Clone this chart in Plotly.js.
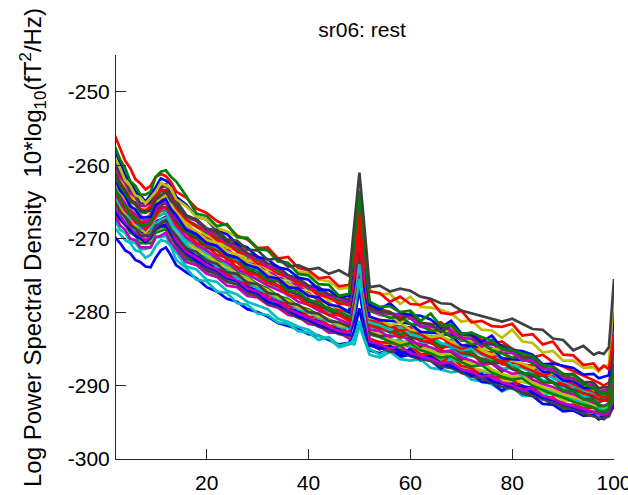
<!DOCTYPE html>
<html>
<head>
<meta charset="utf-8">
<script src="https://cdn.plot.ly/plotly-3.0.1.min.js"></script>
<style>html,body{margin:0;padding:0;background:#fff;}#chart{width:628px;height:495px;}</style>
</head>
<body>
<div id="chart"></div>
<script>
// Frequency grid (Hz)
const freqs = [2,3,4,5,6,7,8,9,10,11,12,13,14,
  16,18,20,22,24,26,28,30,32,34,36,38,40,42,44,46,48,
  49,50,51,52,
  54,56,58,60,62,64,66,68,70,72,74,76,78,80,82,84,86,88,90,92,94,96,
  97,98,99,100];

// Channel spectra, 10*log10(fT^2/Hz)
const chA = [-256.0,-257.6,-259.4,-260.4,-261.9,-262.5,-263.3,-262.8,-261.6,-261.2,-261.5,-262.3,-263.6,
 -264.4,-265.9,-266.5,-267.6,-268.2,-269.6,-270.1,-271.3,-271.2,-272.7,-272.5,-274.0,-274.3,-275.4,-275.2,-276.5,-276.3,
 -272.6,-266.5,-273.0,-277.2,
 -277.4,-278.6,-277.9,-278.9,-279.0,-278.4,-280.1,-280.3,-279.8,-281.4,-281.2,-281.9,-282.0,-281.6,-283.2,-283.0,-284.4,-284.0,-285.8,-285.9,-287.2,-287.0,
 -287.9,-287.3,-287.8,-283.0];
const chB = [-257.5,-259.2,-260.4,-262.2,-262.8,-264.0,-264.0,-263.6,-261.6,-260.9,-260.7,-261.6,-262.2,
 -264.2,-266.6,-266.9,-268.3,-268.0,-269.8,-269.9,-271.4,-271.6,-273.1,-273.3,-274.8,-275.0,-276.2,-276.3,-277.8,-277.5,
 -270.5,-263.5,-271.0,-278.6,
 -279.3,-279.2,-280.0,-279.8,-281.2,-280.2,-281.9,-281.7,-283.0,-282.8,-283.4,-283.9,-285.0,-285.2,-285.6,-286.0,-287.2,-287.4,-288.6,-288.5,-289.9,-290.2,
 -291.0,-291.2,-291.1,-288.0];
const chC = [-261.0,-262.6,-263.4,-264.8,-265.1,-266.2,-266.3,-266.2,-264.7,-264.2,-263.6,-264.9,-265.5,
 -267.0,-267.4,-268.7,-268.8,-270.1,-270.3,-271.5,-271.6,-272.9,-272.7,-273.8,-273.6,-274.2,-274.0,-274.8,-274.3,-275.1,
 -268.0,-261.0,-268.5,-276.6,
 -276.4,-277.2,-276.8,-277.1,-277.9,-278.2,-278.8,-278.9,-279.8,-280.2,-280.5,-281.0,-281.3,-280.9,-281.6,-282.3,-282.4,-283.6,-283.8,-285.2,-284.6,-285.8,
 -285.5,-285.7,-284.8,-275.5];
const chD = [-259.0,-260.4,-262.1,-262.8,-264.1,-264.4,-265.2,-264.4,-263.6,-262.4,-262.7,-263.1,-264.6,
 -265.6,-267.0,-267.4,-268.6,-269.0,-269.8,-270.0,-271.2,-271.6,-272.8,-273.4,-274.5,-274.7,-275.6,-275.8,-276.8,-276.7,
 -271.0,-262.5,-271.5,-277.0,
 -277.6,-277.5,-278.9,-277.9,-279.3,-279.4,-279.7,-280.2,-281.3,-281.1,-282.4,-282.5,-283.5,-282.4,-284.0,-284.2,-285.5,-285.3,-286.6,-286.6,-287.6,-287.5,
 -288.1,-287.4,-287.2,-277.0];
const chE = [-269.8,-270.6,-271.6,-272.0,-272.9,-273.2,-273.8,-273.9,-272.6,-271.6,-271.2,-272.3,-273.6,
 -274.6,-275.4,-276.6,-277.2,-278.2,-278.6,-279.6,-280.0,-280.6,-281.5,-281.9,-282.3,-283.0,-283.2,-283.8,-284.4,-284.2,
 -282.5,-279.5,-283.0,-285.2,
 -285.6,-285.0,-286.1,-285.8,-286.6,-285.9,-286.8,-286.9,-287.6,-288.0,-288.9,-288.2,-289.3,-289.2,-290.1,-290.3,-290.9,-290.8,-291.9,-292.1,-292.8,-292.9,
 -293.4,-293.2,-293.1,-292.0];
const chF = [-267.5,-268.8,-269.2,-270.4,-270.6,-271.5,-271.4,-271.2,-269.8,-269.8,-269.6,-271.0,-271.8,
 -273.8,-274.2,-275.6,-275.9,-277.1,-277.6,-278.6,-279.1,-279.6,-280.9,-281.3,-282.0,-282.4,-283.3,-283.6,-284.8,-284.4,
 -283.6,-281.2,-283.8,-285.0,
 -285.8,-284.9,-285.6,-285.0,-286.1,-286.2,-286.5,-286.8,-287.9,-287.7,-288.1,-288.4,-289.5,-289.4,-290.6,-290.5,-291.4,-290.8,-291.9,-292.0,-292.7,-292.6,
 -293.2,-293.0,-292.8,-290.5];
const chG = [-262.5,-263.6,-265.1,-265.6,-266.8,-267.0,-267.7,-266.8,-266.0,-264.9,-265.2,-265.6,-267.3,
 -268.2,-269.5,-269.8,-271.1,-271.4,-272.5,-272.8,-273.9,-274.2,-275.3,-275.4,-276.6,-276.8,-277.7,-277.8,-278.9,-278.8,
 -275.0,-266.5,-275.5,-279.8,
 -280.4,-280.6,-281.4,-280.8,-282.0,-282.2,-282.5,-282.8,-283.9,-283.8,-284.8,-284.2,-285.5,-285.6,-286.6,-286.0,-287.3,-287.4,-288.4,-288.6,-289.6,-289.8,
 -290.8,-290.8,-291.0,-289.0];
const chH = [-258.0,-259.6,-261.4,-262.2,-263.6,-264.1,-265.0,-264.0,-263.0,-261.8,-262.1,-262.6,-264.3,
 -265.4,-267.0,-267.4,-268.9,-269.4,-270.7,-271.2,-272.5,-272.8,-273.9,-274.2,-275.3,-275.6,-276.9,-277.0,-277.9,-277.8,
 -271.5,-262.8,-272.0,-279.0,
 -279.6,-278.8,-280.1,-280.4,-280.5,-281.0,-282.1,-281.2,-282.9,-283.0,-284.1,-283.2,-284.9,-285.2,-285.3,-285.8,-287.1,-287.0,-287.3,-287.6,-288.5,-288.4,
 -289.0,-288.8,-288.6,-280.0];
const chI = [-266.0,-267.4,-268.0,-269.2,-269.6,-270.6,-270.6,-270.6,-269.2,-269.0,-268.7,-270.0,-270.8,
 -272.8,-273.2,-274.4,-274.8,-275.9,-276.2,-277.5,-277.6,-278.7,-278.8,-280.1,-280.2,-281.3,-281.6,-282.5,-282.6,-283.4,
 -279.0,-272.0,-279.5,-284.2,
 -284.9,-285.0,-285.1,-285.4,-286.5,-285.8,-287.1,-287.2,-287.5,-287.8,-289.1,-289.2,-289.5,-289.8,-290.9,-291.0,-291.9,-292.0,-293.1,-293.2,-294.1,-294.0,
 -294.6,-294.4,-294.2,-292.5];
const chJ = [-263.5,-264.6,-266.0,-266.4,-267.6,-267.8,-268.6,-267.8,-267.0,-265.6,-265.8,-266.4,-268.1,
 -269.2,-270.6,-271.0,-272.2,-272.6,-274.0,-274.0,-275.0,-275.4,-276.4,-276.8,-277.8,-278.2,-279.4,-279.4,-280.2,-280.2,
 -277.0,-269.5,-277.5,-281.2,
 -281.6,-281.8,-281.9,-282.1,-283.5,-283.3,-283.5,-283.9,-285.1,-285.1,-285.3,-285.5,-286.9,-286.9,-287.1,-287.3,-288.7,-288.7,-289.9,-288.9,-290.5,-290.5,
 -291.3,-291.2,-291.5,-290.0];
const chK = [-260.5,-262.1,-262.8,-264.2,-264.6,-265.8,-265.8,-265.8,-264.4,-264.2,-263.9,-265.2,-266.0,
 -267.8,-268.4,-269.6,-270.2,-271.2,-271.6,-273.0,-273.2,-274.2,-274.6,-275.6,-276.0,-277.0,-277.4,-278.4,-278.4,-279.2,
 -274.5,-265.0,-275.0,-279.6,
 -280.3,-280.4,-281.5,-280.6,-281.9,-282.0,-283.1,-282.2,-283.7,-283.8,-284.9,-285.0,-285.1,-285.4,-286.5,-286.6,-287.7,-287.6,-288.7,-288.8,-289.7,-289.6,
 -290.3,-290.2,-290.3,-286.5];
const chL = [-265.0,-266.4,-267.0,-268.2,-268.6,-269.6,-269.6,-269.6,-268.2,-268.0,-267.5,-268.8,-269.6,
 -271.4,-271.8,-273.0,-273.4,-274.6,-274.8,-276.0,-276.2,-277.4,-277.6,-278.8,-279.0,-280.0,-280.2,-281.2,-281.4,-282.0,
 -278.0,-270.0,-278.5,-282.8,
 -283.3,-283.2,-283.3,-283.6,-284.7,-284.0,-285.3,-285.4,-286.5,-285.6,-286.9,-287.0,-288.1,-287.2,-288.5,-288.6,-289.5,-289.6,-290.5,-290.6,-291.7,-291.6,
 -292.3,-292.0,-292.1,-290.0];
const chM = [-264.0,-265.4,-266.0,-267.2,-267.6,-268.6,-268.6,-268.4,-267.0,-266.8,-266.4,-267.8,-268.6,
 -270.4,-270.8,-272.0,-272.4,-273.6,-273.8,-275.0,-275.4,-276.4,-276.6,-277.8,-278.0,-279.0,-279.2,-280.2,-280.4,-281.2,
 -277.5,-272.5,-278.0,-282.0,
 -282.5,-282.6,-283.7,-282.8,-284.1,-284.2,-284.5,-284.8,-285.9,-286.0,-286.3,-286.6,-287.7,-287.6,-288.7,-288.0,-289.3,-289.4,-290.5,-290.4,-291.5,-291.4,
 -292.1,-291.8,-291.7,-286.0];
const chN = [-266.8,-268.2,-268.8,-270.0,-270.2,-271.2,-271.2,-271.2,-269.8,-269.6,-269.2,-270.6,-271.4,
 -273.2,-273.6,-274.8,-275.2,-276.4,-276.6,-277.8,-278.0,-279.0,-279.4,-280.4,-280.6,-281.6,-281.8,-282.8,-282.8,-283.6,
 -280.0,-274.0,-280.5,-284.4,
 -285.1,-284.2,-285.5,-285.6,-285.9,-286.2,-287.3,-287.4,-287.7,-288.0,-289.1,-289.2,-289.3,-289.6,-290.7,-290.8,-291.9,-291.8,-292.9,-292.8,-293.7,-293.6,
 -294.3,-294.0,-294.1,-292.6];
const chO = [-261.8,-263.4,-264.2,-265.6,-266.0,-267.1,-267.1,-267.0,-265.4,-265.0,-264.6,-266.0,-266.8,
 -268.8,-269.4,-270.6,-271.0,-272.2,-272.6,-273.6,-274.0,-275.2,-275.4,-276.6,-276.8,-277.8,-278.0,-279.0,-279.2,-280.0,
 -276.0,-264.0,-276.5,-280.6,
 -281.1,-281.2,-281.3,-281.6,-282.7,-282.8,-282.9,-283.2,-284.5,-284.6,-284.7,-284.9,-286.3,-286.4,-286.5,-286.8,-288.1,-288.2,-289.3,-289.4,-290.3,-290.4,
 -291.0,-290.8,-290.9,-287.5];
const chP = [-262.8,-264.2,-265.0,-266.4,-266.8,-267.8,-267.8,-267.4,-265.6,-264.8,-264.3,-265.8,-266.8,
 -269.0,-269.6,-271.0,-271.4,-272.8,-273.2,-274.6,-275.0,-276.0,-276.4,-277.6,-278.0,-279.0,-279.4,-280.4,-280.4,-281.2,
 -277.5,-268.0,-278.0,-281.8,
 -282.3,-282.4,-283.5,-282.6,-283.9,-284.0,-285.1,-284.2,-285.5,-285.6,-286.7,-285.8,-287.1,-287.2,-288.3,-288.4,-288.5,-288.8,-289.9,-290.0,-291.1,-291.2,
 -292.0,-292.0,-291.9,-289.0];
const chQ = [-263.0,-264.6,-265.4,-266.8,-267.2,-268.2,-268.2,-267.8,-265.8,-265.2,-264.7,-266.1,-267.0,
 -269.0,-269.6,-270.8,-271.2,-272.4,-272.8,-274.0,-274.4,-275.6,-275.8,-277.0,-277.2,-278.4,-278.6,-279.6,-279.8,-280.6,
 -274.0,-263.8,-274.5,-281.4,
 -281.9,-282.0,-283.1,-282.2,-283.5,-283.6,-284.7,-283.8,-285.3,-285.4,-286.5,-286.6,-286.7,-287.2,-288.3,-288.4,-289.5,-289.6,-290.7,-290.8,-291.9,-292.0,
 -292.8,-292.8,-292.6,-290.0];
const chR = [-265.5,-267.0,-267.6,-268.8,-269.2,-270.2,-270.2,-270.2,-268.8,-268.6,-268.3,-269.7,-270.6,
 -272.4,-272.8,-274.0,-274.6,-275.6,-276.0,-277.2,-277.4,-278.6,-278.8,-280.0,-280.2,-281.2,-281.4,-282.4,-282.4,-283.2,
 -279.5,-272.0,-280.0,-283.8,
 -284.3,-284.4,-284.5,-284.8,-285.9,-286.0,-286.1,-286.4,-287.5,-287.6,-287.9,-288.2,-289.3,-289.4,-289.5,-289.8,-290.9,-291.0,-292.1,-292.0,-293.1,-293.0,
 -293.6,-293.4,-293.2,-291.0];
const chS = [-268.6,-269.4,-270.2,-270.6,-271.6,-271.8,-272.6,-272.2,-271.0,-270.2,-270.4,-271.0,-272.9,
 -274.0,-275.6,-275.8,-277.2,-277.4,-278.8,-279.0,-280.2,-280.4,-281.4,-281.6,-282.6,-282.8,-283.8,-283.4,-284.6,-284.2,
 -284.4,-281.8,-283.8,-285.8,
 -286.2,-285.4,-286.4,-286.6,-286.4,-287.6,-287.8,-288.2,-288.0,-289.2,-289.4,-289.8,-290.8,-290.2,-291.4,-291.4,-291.8,-292.6,-292.6,-293.4,-293.4,-293.6,
 -294.2,-293.8,-293.8,-291.5];
const chT = [-259.6,-261.2,-262.0,-263.4,-264.0,-265.2,-265.2,-265.0,-263.4,-263.0,-262.6,-264.0,-264.8,
 -266.8,-267.4,-268.6,-269.2,-270.4,-270.8,-272.0,-272.4,-273.4,-273.8,-275.0,-275.4,-276.4,-276.6,-277.6,-277.8,-278.4,
 -272.0,-263.0,-272.5,-279.4,
 -279.9,-280.0,-281.1,-280.2,-281.5,-281.6,-282.7,-281.8,-283.1,-283.2,-284.3,-284.4,-284.5,-285.0,-286.1,-286.2,-287.3,-287.4,-288.5,-288.4,-289.5,-289.6,
 -290.4,-290.2,-290.2,-285.0];
const chU = [-260.0,-261.6,-262.4,-263.8,-264.3,-265.5,-265.5,-265.2,-263.6,-263.2,-262.7,-264.1,-265.0,
 -267.0,-267.6,-269.0,-269.4,-270.6,-271.0,-272.2,-272.6,-273.8,-274.0,-275.2,-275.6,-276.6,-276.8,-277.8,-278.0,-278.8,
 -273.5,-264.5,-274.0,-279.6,
 -280.1,-280.2,-280.3,-280.8,-281.9,-282.0,-282.1,-282.4,-283.5,-283.6,-284.7,-283.8,-285.1,-285.4,-286.5,-286.6,-287.7,-287.8,-288.9,-289.0,-289.9,-290.0,
 -290.8,-290.6,-290.4,-284.0];
const chV = [-264.5,-266.0,-266.6,-267.8,-268.2,-269.2,-269.2,-269.0,-267.6,-267.4,-267.0,-268.6,-269.6,
 -271.6,-272.2,-273.4,-273.8,-275.0,-275.4,-276.6,-277.0,-278.2,-278.4,-279.6,-279.8,-281.0,-281.2,-282.2,-282.2,-283.0,
 -279.0,-270.5,-279.5,-284.0,
 -284.7,-284.8,-285.9,-285.0,-286.3,-286.6,-287.7,-286.8,-288.3,-288.4,-289.5,-289.6,-290.7,-289.8,-291.1,-291.4,-292.5,-292.6,-293.5,-293.4,-294.1,-294.0,
 -294.6,-294.0,-293.8,-292.0];
const chW = [-264.8,-266.2,-266.8,-268.0,-268.4,-269.4,-269.4,-269.2,-267.8,-267.6,-267.1,-268.6,-269.4,
 -271.2,-271.8,-273.0,-273.6,-274.8,-275.2,-276.2,-276.6,-277.8,-278.0,-279.2,-279.4,-280.6,-280.8,-281.8,-282.0,-282.8,
 -279.0,-271.0,-279.5,-283.6,
 -284.1,-284.2,-284.3,-284.6,-285.7,-285.8,-286.9,-286.0,-287.3,-287.6,-288.7,-288.8,-288.9,-289.2,-290.3,-290.4,-291.5,-291.6,-292.7,-292.6,-293.1,-293.0,
 -293.6,-293.4,-293.4,-293.0];
const chX = [-261.5,-262.8,-263.8,-264.9,-265.4,-266.4,-266.5,-266.0,-264.4,-263.6,-263.4,-264.6,-265.6,
 -267.4,-268.2,-269.2,-269.8,-270.8,-271.4,-272.4,-272.9,-273.9,-274.3,-275.4,-275.8,-276.8,-277.2,-278.0,-278.4,-279.0,
 -272.8,-262.2,-273.4,-279.8,
 -280.2,-280.8,-280.6,-281.6,-281.8,-282.6,-282.4,-283.4,-283.6,-284.4,-284.2,-285.2,-285.6,-286.2,-286.0,-287.0,-287.4,-288.2,-288.4,-289.2,-289.6,-290.4,
 -290.8,-291.0,-290.6,-287.0];
const chY = [-262.0,-263.4,-264.6,-265.4,-266.4,-266.8,-267.4,-266.6,-265.2,-264.2,-264.0,-265.2,-266.4,
 -268.0,-269.2,-269.8,-270.8,-271.6,-272.6,-273.4,-273.8,-275.0,-275.6,-276.2,-277.0,-277.4,-278.4,-278.8,-279.6,-280.0,
 -276.5,-268.8,-277.0,-281.0,
 -281.2,-281.8,-282.6,-282.2,-283.0,-283.8,-283.4,-284.4,-285.0,-284.6,-285.6,-286.2,-286.8,-286.4,-287.4,-288.0,-288.6,-288.2,-289.2,-289.8,-290.4,-290.8,
 -291.4,-291.6,-291.2,-289.5];
const chZ = [-265.2,-266.4,-267.2,-268.2,-268.8,-269.4,-269.8,-269.2,-268.0,-267.4,-267.2,-268.2,-269.4,
 -270.8,-272.0,-272.6,-273.8,-274.2,-275.4,-275.8,-276.8,-277.4,-278.2,-278.6,-279.6,-280.0,-280.8,-281.2,-282.0,-282.2,
 -279.8,-275.5,-280.2,-283.0,
 -283.4,-284.0,-283.8,-284.6,-285.0,-285.6,-285.4,-286.4,-286.8,-287.4,-287.2,-288.2,-288.6,-289.0,-288.8,-289.8,-290.4,-290.8,-291.4,-291.8,-292.2,-292.8,
 -293.0,-293.2,-292.8,-291.0];
const chAA = [-263.8,-265.0,-266.2,-266.8,-267.8,-268.2,-268.8,-268.0,-266.8,-266.0,-265.8,-267.0,-268.2,
 -269.8,-270.8,-271.6,-272.6,-273.2,-274.2,-274.8,-275.6,-276.4,-277.0,-277.6,-278.6,-279.0,-279.8,-280.4,-281.0,-281.6,
 -278.0,-270.8,-278.4,-282.4,
 -282.6,-283.4,-283.0,-284.0,-284.4,-284.8,-285.4,-285.2,-286.2,-286.6,-287.2,-287.0,-287.8,-288.4,-288.2,-289.2,-289.8,-290.2,-290.8,-291.2,-291.8,-292.4,
 -292.6,-292.8,-292.4,-290.5];
const chAB = [-262.2,-263.6,-264.6,-265.6,-266.2,-267.0,-267.2,-266.8,-265.2,-264.4,-264.3,-265.4,-266.6,
 -268.2,-269.0,-270.2,-270.6,-271.8,-272.2,-273.4,-273.8,-274.8,-275.4,-276.2,-276.8,-277.6,-278.0,-279.0,-279.4,-279.8,
 -275.0,-264.2,-275.6,-280.8,
 -281.0,-281.8,-281.4,-282.4,-282.6,-283.4,-283.2,-284.0,-284.6,-284.2,-285.2,-285.8,-285.6,-286.6,-287.0,-287.6,-287.4,-288.4,-288.8,-289.4,-289.8,-290.6,
 -290.8,-291.2,-290.8,-288.0];
const chAC = [-263.2,-264.4,-265.6,-266.2,-267.2,-267.6,-268.2,-267.4,-266.2,-265.4,-265.2,-266.4,-267.6,
 -269.2,-270.0,-271.2,-271.6,-272.8,-273.2,-274.4,-274.8,-275.8,-276.4,-277.2,-277.6,-278.6,-279.0,-279.8,-280.4,-280.8,
 -277.8,-271.8,-278.2,-281.8,
 -282.0,-282.8,-282.4,-283.4,-283.8,-284.2,-284.8,-284.6,-285.6,-285.8,-286.4,-287.0,-286.8,-287.8,-288.2,-288.8,-288.6,-289.6,-290.0,-290.6,-291.0,-291.6,
 -291.8,-292.0,-291.6,-289.5];
const chAD = [-266.2,-267.2,-268.0,-268.8,-269.6,-270.0,-270.4,-269.8,-268.6,-268.2,-268.2,-269.2,-270.4,
 -272.0,-273.0,-273.8,-274.4,-275.4,-275.8,-277.0,-277.4,-278.6,-279.0,-279.6,-280.6,-281.0,-281.8,-282.2,-282.8,-283.0,
 -281.0,-276.8,-281.4,-284.4,
 -285.0,-284.6,-285.4,-285.8,-286.2,-286.0,-287.0,-287.4,-287.8,-288.6,-288.4,-289.4,-289.8,-290.2,-290.0,-291.0,-291.6,-292.0,-292.4,-293.0,-293.4,-293.6,
 -293.8,-294.0,-293.6,-292.6];
const chAE = [-264.2,-265.6,-266.4,-267.4,-268.0,-268.8,-269.0,-268.4,-267.0,-266.4,-266.2,-267.4,-268.6,
 -270.2,-271.2,-272.0,-273.0,-273.6,-274.6,-275.2,-276.2,-276.8,-277.8,-278.2,-279.2,-279.6,-280.4,-281.0,-281.6,-281.8,
 -277.5,-266.8,-278.0,-283.0,
 -283.4,-284.0,-284.6,-284.2,-285.2,-285.6,-286.2,-286.0,-286.8,-287.4,-287.2,-288.2,-288.8,-289.2,-289.0,-290.0,-290.6,-291.2,-291.6,-292.2,-292.6,-293.0,
 -293.4,-293.6,-293.2,-291.0];
const chAF = [-261.0,-262.4,-263.4,-264.6,-265.2,-266.0,-266.2,-265.6,-264.2,-263.4,-263.4,-264.4,-265.8,
 -267.4,-268.4,-269.0,-270.2,-270.6,-271.8,-272.2,-273.4,-273.8,-274.8,-275.2,-276.2,-276.6,-277.6,-278.0,-278.8,-279.0,
 -275.0,-267.0,-275.5,-279.6,
 -279.6,-280.0,-280.8,-280.4,-281.4,-281.8,-281.4,-282.6,-283.2,-282.8,-283.8,-284.4,-284.0,-285.0,-285.6,-286.2,-285.8,-286.8,-287.4,-288.0,-288.6,-289.2,
 -289.6,-290.0,-289.6,-288.5];
const chAG = [-262.6,-263.8,-264.8,-265.8,-266.4,-267.2,-267.4,-266.8,-265.6,-265.0,-264.8,-265.8,-267.0,
 -268.6,-269.4,-270.4,-271.2,-271.8,-272.8,-273.2,-274.2,-274.8,-275.6,-276.0,-277.0,-277.6,-278.2,-278.8,-279.6,-280.2,
 -277.2,-273.5,-277.8,-281.4,
 -281.8,-282.4,-282.0,-283.0,-283.4,-283.2,-284.2,-284.6,-285.2,-285.0,-285.8,-286.4,-286.2,-287.2,-287.6,-288.2,-288.0,-289.0,-289.4,-290.0,-290.6,-291.0,
 -291.4,-291.6,-291.2,-285.5];
const chAH = [-265.8,-266.8,-267.8,-268.4,-269.2,-269.6,-270.2,-269.6,-268.4,-267.8,-267.8,-268.8,-270.2,
 -271.8,-272.6,-273.6,-274.2,-275.2,-275.6,-276.8,-277.2,-278.2,-278.6,-279.6,-280.2,-280.8,-281.4,-282.0,-282.6,-282.8,
 -280.0,-273.2,-280.4,-284.0,
 -284.4,-285.0,-284.6,-285.6,-286.0,-286.4,-287.0,-286.8,-287.8,-288.2,-288.8,-288.6,-289.6,-290.0,-290.6,-290.4,-291.4,-291.8,-292.4,-292.8,-293.2,-293.6,
 -293.8,-294.0,-293.6,-291.8];
const chAI = [-264.4,-265.6,-266.6,-267.2,-268.2,-268.6,-269.2,-268.4,-267.2,-266.6,-266.4,-267.6,-268.8,
 -270.4,-271.4,-272.2,-273.2,-273.8,-274.8,-275.4,-276.4,-277.0,-278.0,-278.4,-279.4,-279.8,-280.6,-281.0,-281.8,-282.0,
 -278.6,-270.2,-279.0,-282.8,
 -283.0,-283.6,-284.2,-283.8,-284.8,-285.2,-285.8,-285.6,-286.4,-287.0,-286.8,-287.8,-288.4,-288.8,-288.6,-289.6,-290.2,-290.6,-291.2,-291.6,-292.0,-292.6,
 -292.8,-293.0,-292.6,-290.0];
const chAJ = [-266.4,-267.4,-268.2,-268.8,-269.6,-270.0,-270.6,-270.0,-268.8,-268.4,-268.4,-269.6,-270.8,
 -272.4,-273.2,-274.2,-274.8,-275.8,-276.2,-277.2,-277.8,-278.8,-279.2,-280.0,-280.8,-281.2,-282.0,-282.4,-283.0,-283.2,
 -281.2,-276.5,-281.6,-284.6,
 -284.8,-285.4,-285.2,-286.0,-286.4,-286.6,-287.4,-287.6,-288.2,-288.8,-289.0,-289.6,-290.2,-290.4,-291.0,-291.4,-291.8,-292.4,-292.8,-293.2,-293.8,-294.2,
 -294.4,-294.6,-294.0,-292.5];

// Drawing order and MATLAB-style colour order
const BLUE='#0000FF', GREEN='#008000', RED='#FF0000', CYAN='#00BFBF', MAGENTA='#BF00BF', OLIVE='#BFBF00', GRAY='#404040';
const channels = [chE, chI, chF, chN, chS, chR, chV, chW, chAJ, chAD, chAH, chZ, chAE, chAI, chL, chM, chAA, chJ, chAC, chP, chQ, chAG, chY, chG, chAB, chO, chK, chX, chAF, chU, chT, chH, chD, chA, chB, chC];
const channelColors = [BLUE, GREEN, CYAN, MAGENTA, CYAN, OLIVE, BLUE, RED, GRAY, BLUE, MAGENTA, CYAN, GREEN, OLIVE, GRAY, CYAN, MAGENTA, RED, GRAY, RED, GREEN, CYAN, RED, MAGENTA, OLIVE, BLUE, OLIVE, GREEN, RED, MAGENTA, GRAY, BLUE, OLIVE, RED, GREEN, GRAY];

const yTicks = [-300,-290,-280,-270,-260,-250];
const xTicks = [20,40,60,80,100];

const traces = channels.map((vals, i) => ({
  x: freqs, y: vals, type: 'scatter', mode: 'lines',
  line: {color: channelColors[i], width: 2.7},
  hoverinfo: 'skip', showlegend: false
}));

const FONT = 'Liberation Sans, Arial, Helvetica, sans-serif';
const layout = {
  width: 628, height: 495,
  margin: {l: 116, r: 14, t: 55, b: 36},
  paper_bgcolor: '#fff', plot_bgcolor: '#fff',
  showlegend: false,
  title: {text: 'sr06: rest', font: {family: FONT, size: 21, color: '#000'},
          x: 362/628, xanchor: 'center', xref: 'container', y: 1 - 30/495, yref: 'container', yanchor: 'middle'},
  xaxis: {range: [2.2, 100], tickvals: xTicks, ticktext: xTicks.map(String),
          ticks: 'inside', ticklen: 10, tickcolor: '#262626', tickwidth: 1,
          showline: true, linecolor: '#262626', linewidth: 1, mirror: false,
          showgrid: false, zeroline: false, ticklabelstandoff: 5, ticklabeloverflow: 'allow',
          tickfont: {family: FONT, size: 21, color: '#000'}},
  yaxis: {range: [-300, -245], tickvals: yTicks, ticktext: yTicks.map(String),
          ticks: 'inside', ticklen: 10, tickcolor: '#262626', tickwidth: 1,
          showline: true, linecolor: '#262626', linewidth: 1, mirror: false,
          showgrid: false, zeroline: false, ticklabelstandoff: 1, ticklabeloverflow: 'allow',
          tickfont: {family: FONT, size: 21, color: '#000'}},
  annotations: [{
    text: 'Log Power Spectral Density  10*log<sub>10</sub>(fT<sup>2</sup>/Hz)',
    textangle: -90, showarrow: false,
    xref: 'paper', yref: 'paper', x: (33 - 116) / 498, y: (459 - 248) / 404,
    xanchor: 'center', yanchor: 'middle',
    font: {family: FONT, size: 24, color: '#000'}
  }]
};

Plotly.newPlot('chart', traces, layout, {staticPlot: true, displayModeBar: false});
</script>
</body>
</html>
